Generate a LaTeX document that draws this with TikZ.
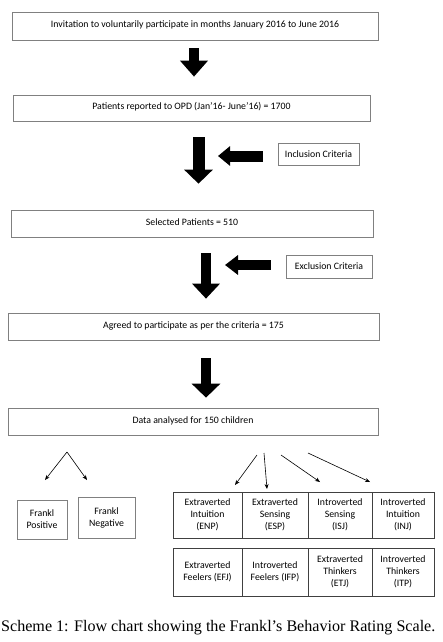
\documentclass[tikz,border=0pt]{standalone}
\usepackage{fontspec}
\setmainfont{Liberation Serif}
\newfontfamily\calfont{Carlito}
\usetikzlibrary{arrows.meta}
\begin{document}
\begin{tikzpicture}[x=1pt,y=-1pt,
  fbox/.style={draw=black!50, line width=0.7pt, inner sep=0pt, align=center,
    font=\calfont\fontsize{9.8}{11}\selectfont, text height=7pt, text depth=4pt},
  sbox/.style={draw=black!50, line width=0.7pt, inner sep=0pt, align=center,
    font=\calfont\fontsize{9.8}{11}\selectfont},
  cell/.style={draw=black!75, line width=0.7pt, inner sep=0pt, align=center,
    font=\calfont\fontsize{9.8}{12.2}\selectfont},
  blk/.style={line width=#1, -{Triangle[width=27pt,length=15pt]}},
  blkh/.style={line width=#1, -{Triangle[width=19pt,length=12pt]}},
  thin/.style={line width=0.6pt, -{Stealth[length=5pt,width=4pt]}}
]
\useasboundingbox (0,0) rectangle (443,642);
% main boxes
\node[fbox, minimum width=366pt, minimum height=28pt] (b1) at (195,26)
  {Invitation to voluntarily participate in months January 2016 to June 2016};
\node[fbox, minimum width=357pt, minimum height=26pt] (b2) at (191.5,108)
  {Patients reported to OPD (Jan’16- June’16) = 1700};
\node[fbox, minimum width=362pt, minimum height=27pt] (b3) at (192,223.5)
  {Selected Patients = 510};
\node[fbox, minimum width=371pt, minimum height=27pt] (b4) at (193.5,326.5)
  {Agreed to participate as per the criteria = 175};
\node[fbox, minimum width=370pt, minimum height=27pt] (b5) at (193,421.5)
  {Data analysed for 150 children};
% criteria boxes
\node[sbox, minimum width=81pt, minimum height=22pt] (inc) at (318.5,154) {Inclusion Criteria};
\node[sbox, minimum width=86pt, minimum height=23pt] (exc) at (329,266.5) {Exclusion Criteria};
% Frankl boxes
\node[sbox, minimum width=50pt, minimum height=39pt, font=\calfont\fontsize{9.8}{12}\selectfont] (fp) at (42,519.5) {Frankl\\Positive};
\node[sbox, minimum width=57pt, minimum height=41pt, font=\calfont\fontsize{9.8}{12}\selectfont] (fn) at (106.5,517.5) {Frankl\\Negative};
% grid upper
\node[cell, minimum width=69pt, minimum height=46pt] (g1) at (207.5,515) {Extraverted\\Intuition\\(ENP)};
\node[cell, minimum width=66pt, minimum height=46pt] (g2) at (275,515) {Extraverted\\Sensing\\(ESP)};
\node[cell, minimum width=64pt, minimum height=46pt] (g3) at (340,515) {Introverted\\Sensing\\(ISJ)};
\node[cell, minimum width=62pt, minimum height=46pt] (g4) at (403,515) {Introverted\\Intuition\\(INJ)};
% grid lower
\node[cell, minimum width=69pt, minimum height=48pt] (h1) at (207.5,572) {Extraverted\\Feelers (EFJ)};
\node[cell, minimum width=66pt, minimum height=48pt] (h2) at (275,572) {Introverted\\Feelers (IFP)};
\node[cell, minimum width=64pt, minimum height=48pt] (h3) at (340,572) {Extraverted\\Thinkers\\(ETJ)};
\node[cell, minimum width=62pt, minimum height=48pt] (h4) at (403,572) {Introverted\\Thinkers\\(ITP)};
% block arrows
\coordinate (c1) at (194,0);
\coordinate (c2) at (198.5,0);
\coordinate (c3) at (206,0);
\draw[blk=10pt, -{Triangle[width=27pt,length=16pt]}, shorten <=8pt, shorten >=18pt] (b1.south -| c1) -- (b2.north -| c1);
\draw[blk=12pt, -{Triangle[width=28pt,length=14pt]}, shorten <=16pt, shorten >=26pt] (b2.south -| c2) -- (b3.north -| c2);
\draw[blk=10pt, shorten <=16pt, shorten >=14pt] (b3.south -| c3) -- (b4.north -| c3);
\draw[blk=10pt, -{Triangle[width=28pt,length=14pt]}, shorten <=18pt, shorten >=10pt] (b4.south -| c3) -- (b5.north -| c3);
% horizontal block arrows
\coordinate (t2) at (218,156);
\coordinate (t3) at (225,265);
\draw[blkh=11pt, shorten <=15pt] (inc.west |- t2) -- (t2);
\draw[blkh=10pt, -{Triangle[width=19pt,length=13pt]}, shorten <=15pt] (exc.west |- t3) -- (t3);
% thin arrows
\coordinate (fa) at (67,452);
\coordinate (fl) at (45,480);
\coordinate (fr) at (87,480);
\draw[thin] (fa) -- (fl);
\draw[thin] (fa) -- (fr);
\coordinate (s1) at (257,455); \coordinate (e1) at (235,485);
\coordinate (s2) at (264,453); \coordinate (e2) at (267,489);
\coordinate (s3) at (281,455); \coordinate (e3) at (320,482);
\coordinate (s4) at (308,453); \coordinate (e4) at (370,482);
\draw[thin] (s1) -- (e1);
\draw[thin] (s2) -- (e2);
\draw[thin] (s3) -- (e3);
\draw[thin] (s4) -- (e4);
% caption
\node[anchor=west, inner sep=0pt, font=\fontsize{16.1}{19}\selectfont] (cap) at (1,628)
  {Scheme 1: Flow chart showing the Frankl’s Behavior Rating Scale.};
\end{tikzpicture}
\end{document}
